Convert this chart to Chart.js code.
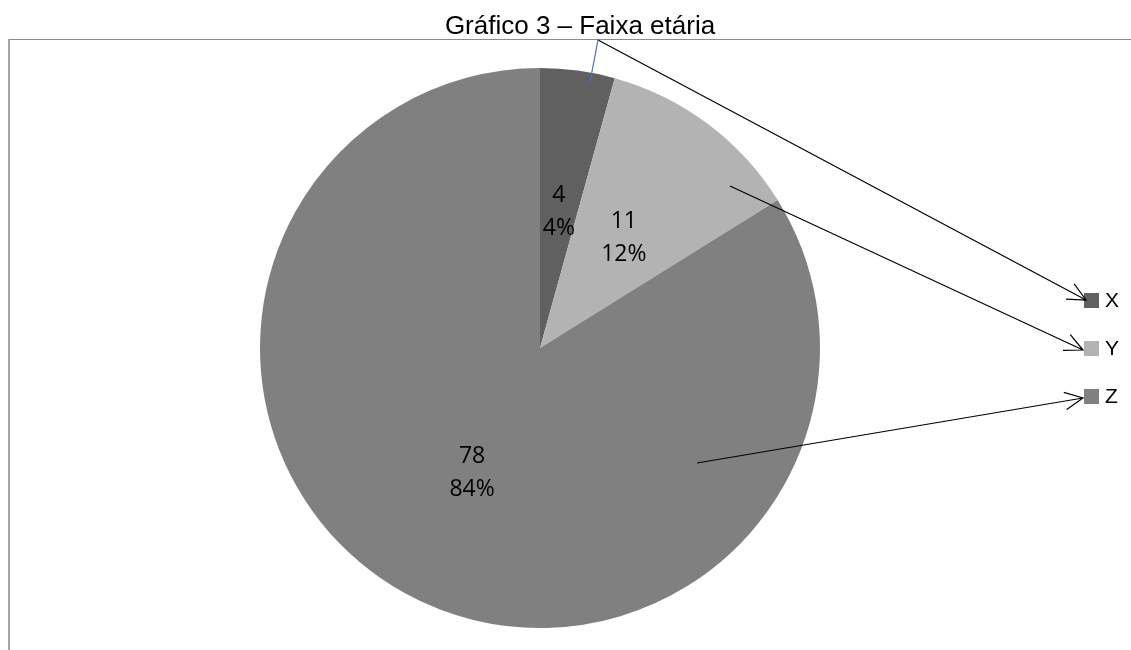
<!DOCTYPE html>
<html>
<head>
<meta charset="utf-8">
<script src="https://cdn.jsdelivr.net/npm/chart.js@4/dist/chart.umd.min.js"></script>
<style>
  html, body { margin: 0; padding: 0; background: #fff; }
  #wrap { width: 1131px; height: 650px; position: relative; }
</style>
</head>
<body>
<div id="wrap"><canvas id="pieChart"></canvas></div>
<script>
// data
const categories = ['X', 'Y', 'Z'];
const counts = [4, 11, 78];
const percents = ['4%', '12%', '84%'];
const sliceColors = ['#606060', '#b3b3b3', '#808080'];
const chartTitle = 'Gráfico 3 – Faixa etária';

function arrow(ctx, x1, y1, x2, y2) {
    ctx.beginPath();
    ctx.moveTo(x1, y1);
    ctx.lineTo(x2, y2);
    const a = Math.atan2(y2 - y1, x2 - x1);
    const len = 20, spread = 0.45;
    ctx.moveTo(x2 - len * Math.cos(a - spread), y2 - len * Math.sin(a - spread));
    ctx.lineTo(x2, y2);
    ctx.lineTo(x2 - len * Math.cos(a + spread), y2 - len * Math.sin(a + spread));
    ctx.stroke();
}

const decorPlugin = {
    id: 'decor',
    beforeDraw(chart) {
        const ctx = chart.ctx;
        ctx.save();
        // frame (top + left only visible)
        ctx.fillStyle = '#8c8c8c';
        ctx.fillRect(8, 39, 1131 - 8, 1);
        ctx.fillStyle = '#a6a6a6';
        ctx.fillRect(8, 39, 2, 650 - 39);
        ctx.restore();
    },
    afterDraw(chart) {
        const ctx = chart.ctx;
        const meta = chart.getDatasetMeta(0);
        ctx.save();

        // title
        ctx.fillStyle = '#000';
        ctx.font = '26px "Liberation Sans", Arial, sans-serif';
        ctx.textAlign = 'center';
        ctx.textBaseline = 'alphabetic';
        ctx.fillText(chartTitle, 580, 34);

        // slice labels
        ctx.font = '23px "Open Sans", sans-serif';
        ctx.textBaseline = 'middle';
        meta.data.forEach((arc, i) => {
            const p = arc.tooltipPosition();
            ctx.fillText(String(counts[i]), p.x, p.y - 14);
            ctx.fillText(percents[i], p.x, p.y + 19);
        });

        // legend
        const legendY = [300, 348, 396];
        ctx.textAlign = 'left';
        ctx.font = '21px "Liberation Sans", Arial, sans-serif';
        categories.forEach((c, i) => {
            ctx.fillStyle = sliceColors[i];
            ctx.fillRect(1084, legendY[i] - 7, 15, 15);
            ctx.fillStyle = '#000';
            ctx.fillText(c, 1105, legendY[i] + 1);
        });

        // leader arrows
        ctx.strokeStyle = '#000';
        ctx.lineWidth = 1.2;
        arrow(ctx, 598, 40, 1086, 300);
        arrow(ctx, 730, 186, 1083, 350);
        arrow(ctx, 697, 463, 1083, 398);

        // blue leader from title
        ctx.strokeStyle = '#4472c4';
        ctx.lineWidth = 1.2;
        ctx.beginPath();
        ctx.moveTo(598, 40);
        ctx.lineTo(590, 82);
        ctx.stroke();

        ctx.restore();
    }
};

new Chart(document.getElementById('pieChart'), {
    type: 'pie',
    data: {
        labels: categories,
        datasets: [{
            data: counts,
            backgroundColor: sliceColors,
            borderWidth: 0
        }]
    },
    options: {
        responsive: true,
        maintainAspectRatio: false,
        animation: false,
        layout: { padding: { top: 68, bottom: 22, left: 260, right: 311 } },
        plugins: {
            legend: { display: false },
            tooltip: { enabled: false },
            title: { display: false }
        }
    },
    plugins: [decorPlugin]
});
</script>
</body>
</html>
